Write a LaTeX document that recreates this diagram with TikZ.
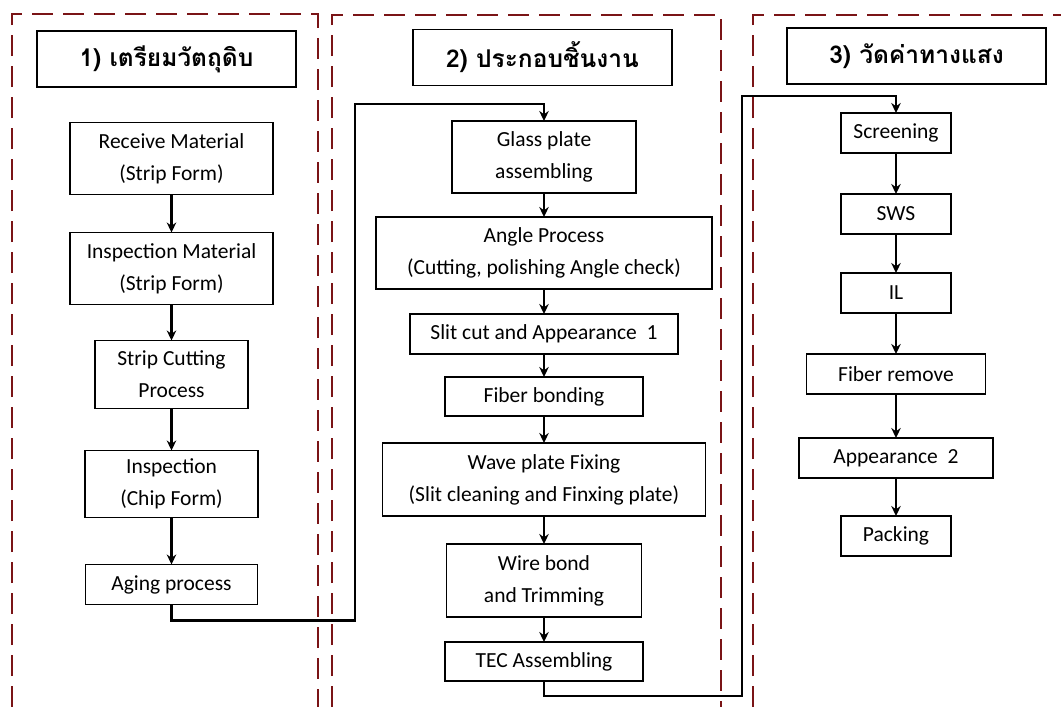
\documentclass[tikz,border=0pt]{standalone}
\usepackage{fontspec}
\setmainfont{Carlito}
\newfontfamily\thaifont[Script=Thai]{Loma}
\usetikzlibrary{arrows.meta,positioning}
\definecolor{framered}{HTML}{7A1416}

\begin{document}
\begin{tikzpicture}[
    x=1pt, y=1pt,
    font=\fontsize{21.5}{32}\selectfont,
    stage/.style={draw, line width=1.8pt, outer sep=0pt, align=center, inner sep=2pt, minimum height=40pt},
    tall/.style={stage, minimum height=72pt},
    headbox/.style={draw, line width=1.8pt, outer sep=0pt, minimum width=259pt, minimum height=56pt, font=\thaifont\bfseries\fontsize{24.5}{28}\selectfont},
    arrow/.style={-{Stealth[length=10pt,width=9.5pt]}, line width=2.2pt},
    frame/.style={draw=framered, line width=2.8pt, dash pattern=on 21pt off 10pt},
    node distance=25pt
]
\useasboundingbox (0,0) rectangle (1061,-707);

% headers
\node[headbox] (h1) at (166.5,-59) {1) เตรียมวัตถุดิบ};
\node[headbox] (h2) at (542.5,-57.5) {2) ประกอบชิ้นงาน};
\node[headbox] (h3) at (916.5,-56) {3) วัดค่าทางแสง};

% column 1
\node[tall, minimum width=203pt] (m1) at (171.5,-158.5) {Receive Material\\(Strip Form)};
\node[tall, minimum width=203pt, below=38pt of m1] (m2) {Inspection Material\\(Strip Form)};
\node[tall, minimum width=153pt, minimum height=68pt, below=36pt of m2] (m3) {Strip Cutting\\Process};
\node[tall, minimum width=173pt, minimum height=67pt, below=42pt of m3] (m4) {Inspection\\(Chip Form)};
\node[stage, minimum width=172pt, below=47pt of m4] (m5) {Aging process};

% column 2
\node[tall, minimum width=184pt] (a1) at (544,-157) {Glass plate\\assembling};
\node[tall, minimum width=336pt, below=24pt of a1] (a2) {Angle Process\\(Cutting, polishing Angle check)};
\node[stage, minimum width=268pt, below=25pt of a2] (a3) {Slit cut and Appearance~ 1};
\node[stage, minimum width=198pt, minimum height=39pt, below=23pt of a3] (a4) {Fiber bonding};
\node[tall, minimum width=323pt, minimum height=73pt, below=27pt of a4] (a5) {Wave plate Fixing\\(Slit cleaning and Finxing plate)};
\node[tall, minimum width=195pt, minimum height=73pt, below=28pt of a5] (a6) {Wire bond\\and Trimming};
\node[stage, minimum width=198pt, minimum height=39pt, below=25pt of a6] (a7) {TEC Assembling};

% column 3
\node[stage, minimum width=110pt] (t1) at (896,-133) {Screening};
\node[stage, minimum width=110pt, below=41pt of t1] (t2) {SWS};
\node[stage, minimum width=110pt, below=39pt of t2] (t3) {IL};
\node[stage, minimum width=179pt, below=41pt of t3] (t4) {Fiber remove};
\node[stage, minimum width=194pt, below=44pt of t4] (t5) {Appearance~ 2};
\node[stage, minimum width=110pt, below=38pt of t5] (t6) {Packing};

\foreach \i/\j in {m1/m2, m2/m3, m3/m4, m4/m5, a1/a2, a2/a3, a3/a4, a4/a5, a5/a6, a6/a7, t1/t2, t2/t3, t3/t4, t4/t5, t5/t6}
  \draw[arrow] (\i.south) -- (\j.north);

% links between stages
\coordinate (j1) at (355,-104);
\coordinate (j2) at (742,-96);
\draw[arrow] (m5.south) -- ++(0,-16) -| (j1) -| (a1.north);
\draw[arrow] (a7.south) -- ++(0,-15) -| (j2) -| (t1.north);

% stage frames
\draw[frame] (12,-707) -- (12,-14) -- (318,-14) -- (318,-707);
\draw[frame] (332,-707) -- (332,-15) -- (721,-15) -- (721,-707);
\draw[frame] (753,-707) -- (753,-15) -- (1061,-15);
\end{tikzpicture}
\end{document}
